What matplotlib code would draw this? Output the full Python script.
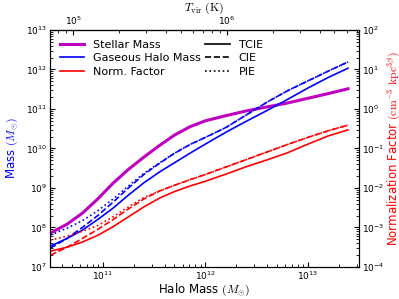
import numpy as np
import matplotlib
matplotlib.use('Agg')
import matplotlib.pyplot as plt
from matplotlib.lines import Line2D

plt.rcParams['mathtext.fontset'] = 'cm'
plt.rcParams['xtick.direction'] = 'in'
plt.rcParams['ytick.direction'] = 'in'

# log10 halo mass (Msun)
logmh = [10.49, 10.65, 10.80, 10.95, 11.10, 11.25, 11.40, 11.55, 11.70,
         11.85, 12.00, 12.20, 12.40, 12.60, 12.80, 13.00, 13.20, 13.39]

# log10 masses (Msun)
stellar = [7.86, 8.08, 8.36, 8.72, 9.12, 9.47, 9.78, 10.07, 10.34,
           10.55, 10.70, 10.83, 10.95, 11.05, 11.15, 11.27, 11.39, 11.51]
gas_tcie = [7.53, 7.72, 7.93, 8.20, 8.49, 8.82, 9.13, 9.40, 9.64,
            9.88, 10.11, 10.41, 10.69, 10.96, 11.24, 11.53, 11.80, 12.03]
gas_cie = [7.48, 7.72, 8.00, 8.30, 8.64, 9.00, 9.34, 9.62, 9.88,
           10.10, 10.28, 10.53, 10.85, 11.17, 11.46, 11.71, 11.96, 12.19]
gas_pie = [7.81, 7.98, 8.17, 8.42, 8.72, 9.05, 9.37, 9.63, 9.88,
           10.10, 10.28, 10.53, 10.85, 11.17, 11.46, 11.71, 11.96, 12.19]

# log10 normalization factor
norm_tcie = [-3.60, -3.50, -3.37, -3.20, -2.98, -2.73, -2.48, -2.26, -2.09,
             -1.95, -1.83, -1.65, -1.46, -1.29, -1.11, -0.89, -0.68, -0.53]
norm_cie = [-3.70, -3.50, -3.28, -3.05, -2.80, -2.53, -2.28, -2.08, -1.93,
            -1.79, -1.66, -1.47, -1.28, -1.09, -0.90, -0.72, -0.55, -0.41]
norm_pie = [-3.32, -3.22, -3.10, -2.95, -2.73, -2.48, -2.24, -2.08, -1.93,
            -1.79, -1.66, -1.47, -1.28, -1.09, -0.90, -0.72, -0.55, -0.41]

mh = 10 ** np.array(logmh)

fig = plt.figure(figsize=(3.99, 2.99), dpi=100)
fig.subplots_adjust(left=0.125, right=0.9, bottom=0.107, top=0.9)
ax = fig.add_subplot(111)

ax.plot(mh, 10 ** np.array(stellar), color='m', lw=2.2)
ax.plot(mh, 10 ** np.array(gas_tcie), color='b', lw=1.2, ls='-')
ax.plot(mh, 10 ** np.array(gas_cie), color='b', lw=1.2, ls='--')
ax.plot(mh, 10 ** np.array(gas_pie), color='b', lw=1.2, ls=':')

ax.set_xscale('log')
ax.set_yscale('log')
ax.set_xlim(3.05e10, 3.15e13)
ax.set_ylim(1e7, 1e13)
ax.set_xlabel(r'Halo Mass $(M_{\odot})$', fontsize=8.5, labelpad=0)
ax.set_ylabel(r'Mass $(M_{\odot})$', fontsize=8.5, color='b', labelpad=4)
ax.tick_params(labelsize=6.5, pad=2)
ax.tick_params(which='both', top=False)

ax2 = ax.twinx()
ax2.plot(mh, 10 ** np.array(norm_tcie), color='r', lw=1.2, ls='-')
ax2.plot(mh, 10 ** np.array(norm_cie), color='r', lw=1.2, ls='--')
ax2.plot(mh, 10 ** np.array(norm_pie), color='r', lw=1.2, ls=':')
ax2.set_yscale('log')
ax2.set_ylim(1e-4, 1e2)
ax2.set_ylabel(r'Normalization Factor $(\mathrm{cm}^{-3}\ \mathrm{kpc}^{3\beta})$',
               fontsize=8.5, color='r', labelpad=1)
ax2.tick_params(labelsize=6.5, pad=2)


def m2t(m):
    return 1e5 * (np.asarray(m) / 10 ** 10.71) ** (2.0 / 3.0)


def t2m(t):
    return 10 ** 10.71 * (np.asarray(t) / 1e5) ** 1.5


top = ax.secondary_xaxis('top', functions=(m2t, t2m))
top.tick_params(labelsize=6.5, direction='in', pad=2)
top.set_xlabel(r'$T_{\rm vir}\ ({\rm K})$', fontsize=8.5, labelpad=3)

h1 = [Line2D([], [], color='m', lw=2.2),
      Line2D([], [], color='b', lw=1.2),
      Line2D([], [], color='r', lw=1.2)]
leg1 = ax2.legend(h1, ['Stellar Mass', 'Gaseous Halo Mass', 'Norm. Factor'],
                  loc='upper left', frameon=False, fontsize=8,
                  handlelength=2.2, labelspacing=0.3)
ax2.add_artist(leg1)
h2 = [Line2D([], [], color='k', lw=1.2, ls='-'),
      Line2D([], [], color='k', lw=1.2, ls='--'),
      Line2D([], [], color='k', lw=1.2, ls=':')]
ax2.legend(h2, ['TCIE', 'CIE', 'PIE'], loc='upper left',
           bbox_to_anchor=(0.47, 1.0), frameon=False, fontsize=8,
           handlelength=2.2, labelspacing=0.3)

fig.savefig('out.png', dpi=100)
